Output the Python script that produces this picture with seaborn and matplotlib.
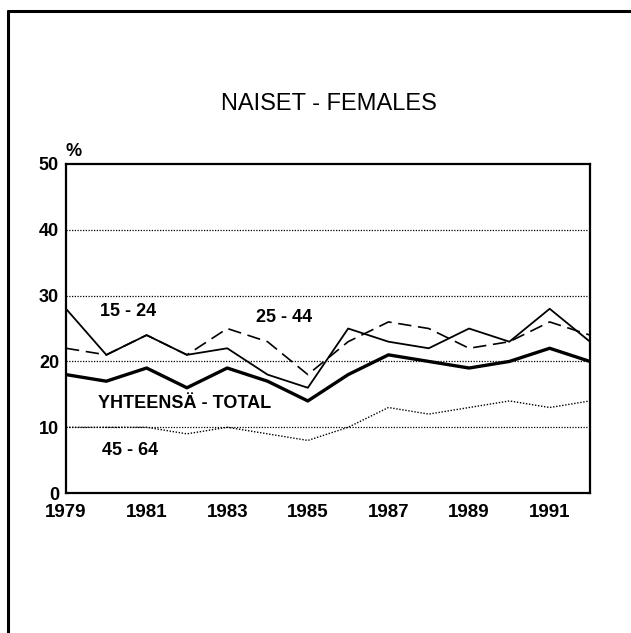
import matplotlib
matplotlib.use("Agg")
import matplotlib.pyplot as plt
from matplotlib.lines import Line2D
import seaborn as sns
import pandas as pd

years = list(range(1979, 1993))
age_15_24 = [28, 21, 24, 21, 22, 18, 16, 25, 23, 22, 25, 23, 28, 23]
age_25_44 = [22, 21, 24, 21, 25, 23, 18, 23, 26, 25, 22, 23, 26, 24]
age_45_64 = [10, 10, 10, 9, 10, 9, 8, 10, 13, 12, 13, 14, 13, 14]
total = [18, 17, 19, 16, 19, 17, 14, 18, 21, 20, 19, 20, 22, 20]
y_ticks = [0, 10, 20, 30, 40, 50]
x_labels = [1979, 1981, 1983, 1985, 1987, 1989, 1991]

df = pd.DataFrame({
    "year": years,
    "15 - 24": age_15_24,
    "25 - 44": age_25_44,
    "45 - 64": age_45_64,
    "total": total,
})

sns.set_style("white")
plt.rcParams["font.family"] = ["Liberation Sans", "DejaVu Sans"]
plt.rcParams["text.color"] = "black"
plt.rcParams["xtick.color"] = "black"
plt.rcParams["ytick.color"] = "black"

fig = plt.figure(figsize=(6.31, 6.33), dpi=100)
ax = fig.add_axes([0.1046, 0.221, 0.8304, 0.520])

# grid first so lines sit on top
for v in y_ticks[1:-1]:
    ax.axhline(v, color="black", lw=0.9, ls=(0, (1, 1.2)), zorder=1)

sns.lineplot(data=df, x="year", y="45 - 64", ax=ax, color="black",
             lw=1.0, ls=(0, (1, 1.2)), zorder=2)
sns.lineplot(data=df, x="year", y="25 - 44", ax=ax, color="black",
             lw=1.2, ls=(0, (8, 4)), zorder=3)
sns.lineplot(data=df, x="year", y="15 - 24", ax=ax, color="black",
             lw=1.3, zorder=4)
sns.lineplot(data=df, x="year", y="total", ax=ax, color="black",
             lw=2.4, zorder=5)

ax.set_xlim(1979, 1992)
ax.set_ylim(0, 50)
ax.set_xlabel("")
ax.set_ylabel("")

ax.set_yticks(y_ticks)
ax.set_yticklabels([str(v) for v in y_ticks], fontsize=13, fontweight="bold",
                   color="black")
ax.set_xticks(x_labels)
ax.set_xticklabels([str(v) for v in x_labels], fontsize=13.5,
                   fontweight="bold", color="black")
ax.set_xticks([y for y in years if y not in x_labels], minor=True)
ax.tick_params(axis="x", which="major", direction="inout", length=10,
               width=1.2, colors="black", pad=3)
ax.tick_params(axis="x", which="minor", direction="in", length=5,
               width=1.2, colors="black")
ax.tick_params(axis="y", which="major", direction="out", length=3,
               width=1.2, colors="black", pad=2)

for side in ["left", "bottom", "top", "right"]:
    ax.spines[side].set_visible(True)
    ax.spines[side].set_color("black")
    ax.spines[side].set_linewidth(1.6)

label_kw = dict(fontsize=13, fontweight="bold", ha="center", va="center",
                color="black")
ax.text(1980.55, 27.6, "15 - 24", **label_kw)
ax.text(1984.4, 26.6, "25 - 44", **label_kw)
ax.text(1981.93, 13.6, "YHTEENSÄ - TOTAL", **label_kw)
ax.text(1980.6, 6.5, "45 - 64", **label_kw)

fig.text(0.116, 0.760, "%", fontsize=13, fontweight="bold",
         ha="center", va="center", color="black")
fig.text(0.521, 0.836, "NAISET - FEMALES", fontsize=17,
         ha="center", va="center", color="black")

# page frame (top and left edges only)
fig.add_artist(Line2D([0.0127, 1.0], [0.9826, 0.9826], color="black",
                      lw=2.2, transform=fig.transFigure))
fig.add_artist(Line2D([0.0127, 0.0127], [0.0, 0.9826], color="black",
                      lw=2.2, transform=fig.transFigure))

fig.savefig("out.png", dpi=100)
